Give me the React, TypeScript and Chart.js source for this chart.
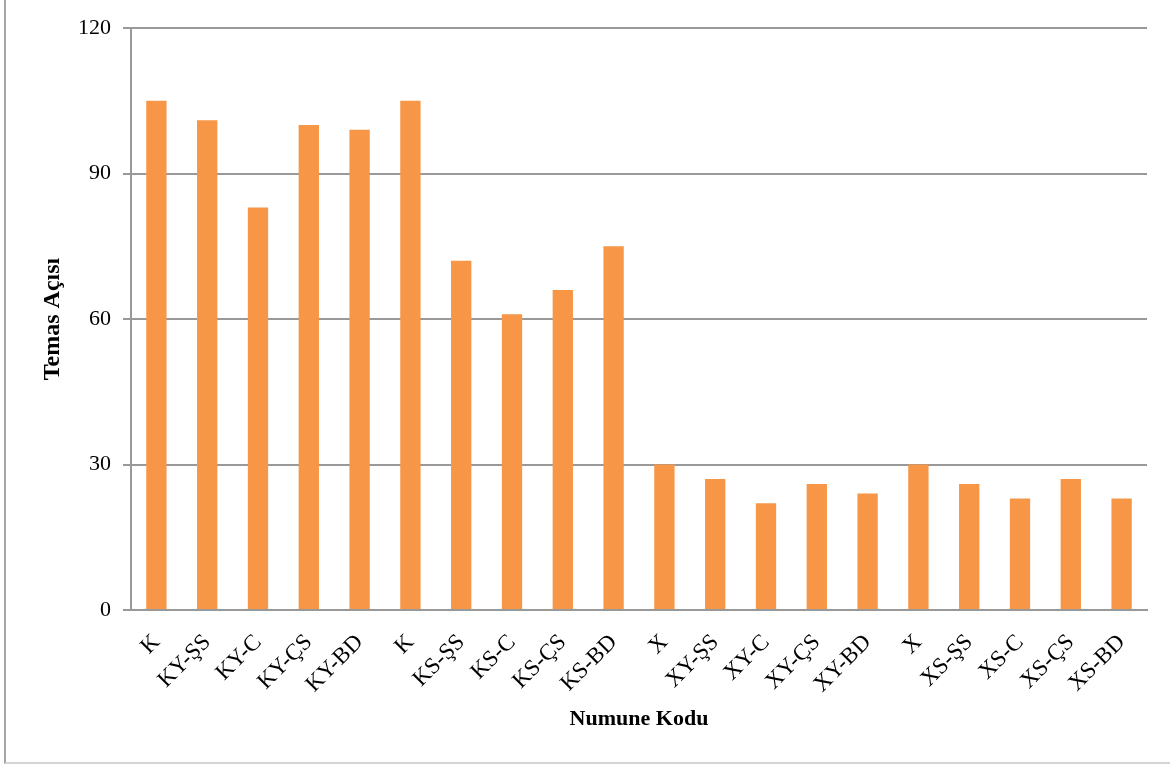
import React, { useEffect, useRef } from "react";
import { Chart, registerables } from "chart.js";

Chart.register(...registerables);

const categories = [
  "K", "KY-ŞS", "KY-C", "KY-ÇS", "KY-BD",
  "K", "KS-ŞS", "KS-C", "KS-ÇS", "KS-BD",
  "X", "XY-ŞS", "XY-C", "XY-ÇS", "XY-BD",
  "X", "XS-ŞS", "XS-C", "XS-ÇS", "XS-BD",
];
const contactAngle = [
  105, 101, 83, 100, 99,
  105, 72, 61, 66, 75,
  30, 27, 22, 26, 24,
  30, 26, 23, 27, 23,
];
const yTicks = [0, 30, 60, 90, 120];
const xTitle = "Numune Kodu";
const yTitle = "Temas Açısı";

const FONT = "'Liberation Serif', 'Times New Roman', serif";

export default function App() {
  const ref = useRef<HTMLCanvasElement | null>(null);
  useEffect(() => {
    if (!ref.current) return;
    const chart = new Chart(ref.current, {
      type: "bar",
      data: {
        labels: categories,
        datasets: [
          {
            data: contactAngle,
            backgroundColor: "#F79646",
            borderWidth: 0,
            barPercentage: 0.8,
            categoryPercentage: 0.5,
          },
        ],
      },
      options: {
        animation: false,
        responsive: false,
        maintainAspectRatio: false,
        layout: { padding: { left: 0, top: 28, right: 23, bottom: 0 } },
        plugins: { legend: { display: false }, tooltip: { enabled: false } },
        scales: {
          x: {
            grid: { display: false },
            border: { display: true, color: "#999999", width: 2 },
            ticks: {
              color: "#000",
              font: { family: FONT, size: 23 },
              minRotation: 45,
              maxRotation: 45,
              autoSkip: false,
              padding: 11,
            },
            title: {
              display: true,
              text: xTitle,
              color: "#000",
              font: { family: FONT, size: 22, weight: "bold" },
              padding: { top: 0, bottom: 32 },
            },
            afterFit: (s: any) => {
              s.height = 765 - 610;
            },
          },
          y: {
            min: 0,
            max: 120,
            afterBuildTicks: (s: any) => {
              s.ticks = yTicks.map((v) => ({ value: v }));
            },
            grid: {
              color: "#999999",
              lineWidth: 2,
              drawTicks: true,
              tickLength: 8,
            },
            border: { display: true, color: "#999999", width: 2 },
            ticks: {
              color: "#000",
              font: { family: FONT, size: 22 },
              padding: 12,
            },
            title: {
              display: true,
              text: yTitle,
              color: "#000",
              font: { family: FONT, size: 24, weight: "bold" },
              padding: { top: 38, bottom: 0 },
            },
            afterFit: (s: any) => {
              s.width = 131;
            },
          },
        },
      },
    });
    return () => chart.destroy();
  }, []);
  return (
    <div style={{ position: "absolute", left: 0, top: 0, width: 1170, height: 765, background: "#fff" }}>
      <canvas ref={ref} width={1170} height={765} style={{ position: "absolute", left: 0, top: 0 }} />
      <div
        style={{
          position: "absolute",
          left: 4,
          top: 0,
          width: 1166,
          height: 762,
          borderLeft: "2px solid #a6a6a6",
          borderBottom: "2px solid #d4d4d4",
          pointerEvents: "none",
        }}
      />
    </div>
  );
}
